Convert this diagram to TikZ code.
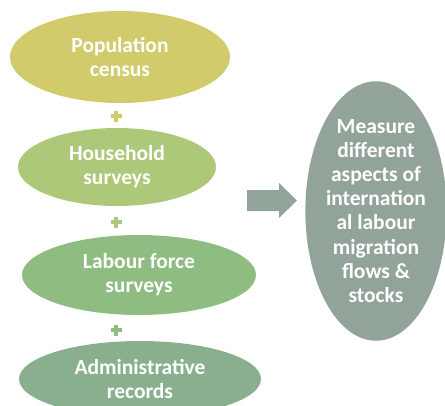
\documentclass[tikz,border=0pt]{standalone}
\usepackage{fontspec}
\setmainfont{Carlito}
\usetikzlibrary{shapes.geometric,calc}
\definecolor{censusc}{HTML}{D2CB6C}
\definecolor{housec}{HTML}{AEC87A}
\definecolor{labourc}{HTML}{8FBC80}
\definecolor{adminc}{HTML}{8AAF8F}
\definecolor{resultc}{HTML}{92A39A}
\tikzset{
  src/.style={ellipse, inner sep=0pt, text=white, align=center,
    font=\bfseries\fontsize{21.5}{24}\selectfont},
  result/.style={ellipse, fill=resultc, inner sep=0pt, text=white, align=center,
    font=\bfseries\fontsize{21.5}{24.2}\selectfont},
}
% plus sign centred at a point
\newcommand{\plussign}[2]{%
  \fill[#2] ($(#1)+(-5.5,-1.7)$) rectangle ($(#1)+(5.5,1.7)$);
  \fill[#2] ($(#1)+(-1.7,-5.5)$) rectangle ($(#1)+(1.7,5.5)$);}
\begin{document}
\begin{tikzpicture}[x=1pt,y=-1pt]
\useasboundingbox (0,0) rectangle (445,405);
\node[src, fill=censusc, minimum width=220pt, minimum height=92pt] (census) at (120,57) {Population\\census};
\node[src, fill=housec, minimum width=198pt, minimum height=78pt] (house) at (117,167) {Household\\surveys};
\node[src, fill=labourc, minimum width=234pt, minimum height=80pt] (labour) at (139,275) {Labour force\\surveys};
\node[src, fill=adminc, minimum width=242pt, minimum height=76pt] (admin) at (140,379) {Administrative\\records};
\node[result, minimum width=140pt, minimum height=258pt] (result) at (376,211)
  {Measure\\different\\aspects of\\internation\\al labour\\migration\\flows \&\\stocks};
\coordinate (p1) at (116,116);
\coordinate (p2) at (116,222);
\coordinate (p3) at (116,330);
\plussign{p1}{censusc}
\plussign{p2}{housec}
\plussign{p3}{labourc}
% block arrow
\fill[resultc] (247,190) -- (279,190) -- (279,183) -- (297,200.5) -- (279,218) -- (279,211) -- (247,211) -- cycle;
\end{tikzpicture}
\end{document}
